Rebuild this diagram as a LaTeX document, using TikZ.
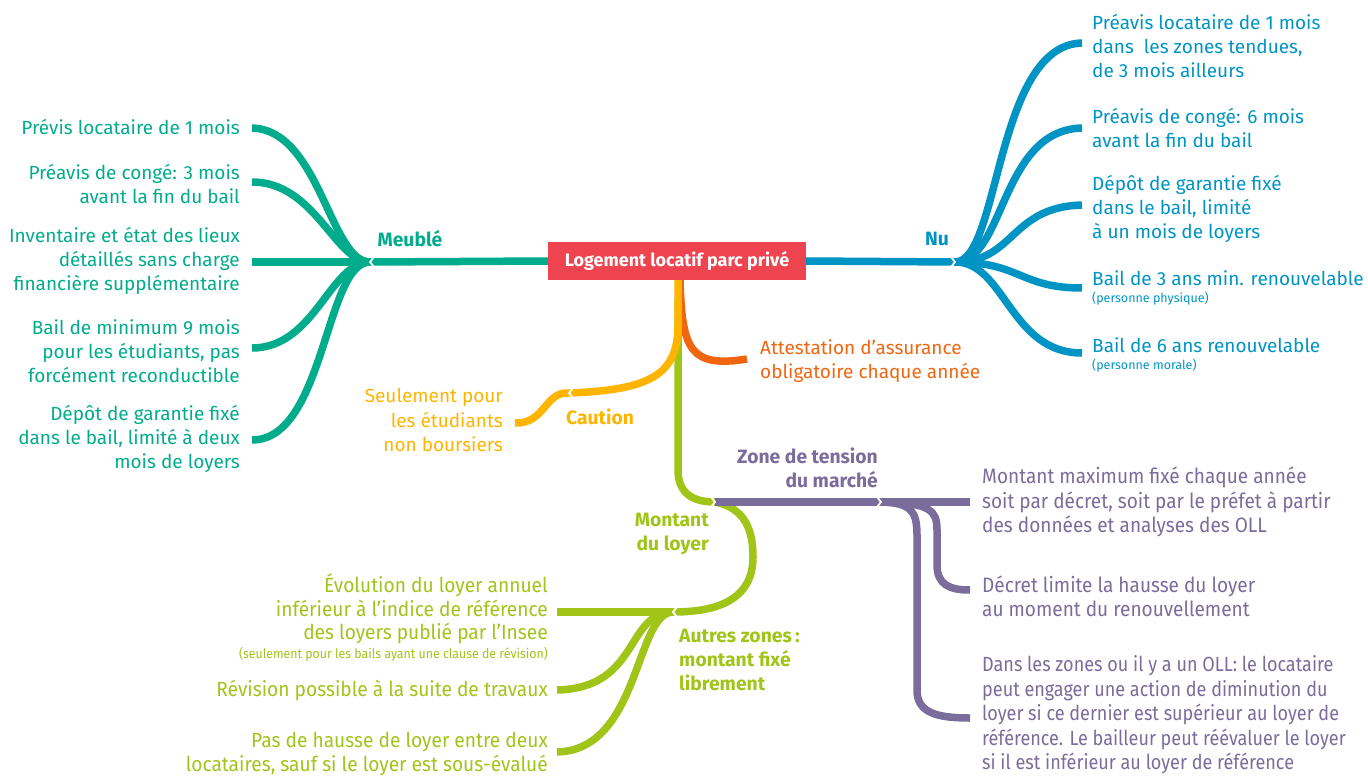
\documentclass[tikz,border=0pt]{standalone}
\usepackage{fontspec}
\setmainfont{Fira Sans}
\newfontfamily\condfont[FakeStretch=0.88]{Fira Sans}
\newfontfamily\condfontb[FakeStretch=0.915]{Fira Sans}
\newfontfamily\condfontc[FakeStretch=0.935]{Fira Sans}
\definecolor{cMeu}{RGB}{0,172,140}
\definecolor{cNu}{RGB}{0,148,196}
\definecolor{cCau}{RGB}{255,180,0}
\definecolor{cAtt}{RGB}{241,101,15}
\definecolor{cMon}{RGB}{161,196,24}
\definecolor{cZon}{RGB}{122,108,155}
\definecolor{cRoot}{RGB}{238,68,80}
\begin{document}
\begin{tikzpicture}[x=1pt,y=-1pt,
  br/.style={line width=7.5pt},
  chev/.style={white,line width=1.8pt},
  txt/.style={inner sep=0pt,font=\fontsize{19}{24.3}\selectfont},
  ztxt/.style={inner sep=0pt,font=\condfontb\fontsize{20.8}{24.3}\selectfont},
  zztxt/.style={inner sep=0pt,font=\condfont\fontsize{20.5}{24.5}\selectfont},
  otxt/.style={inner sep=0pt,font=\condfontc\fontsize{20.5}{23.5}\selectfont},
  small/.style={inner sep=0pt,font=\fontsize{12.5}{13}\selectfont},
  csmall/.style={inner sep=0pt,font=\condfontc\fontsize{13.2}{14}\selectfont},
  hd/.style={inner sep=0pt,font=\bfseries\fontsize{19.3}{24.3}\selectfont}]
\useasboundingbox (0,0) rectangle (1368,776);

% ---------- root
\node[fill=cRoot,minimum width=258,minimum height=38,inner sep=0pt,text=white,
  font=\bfseries\fontsize{18}{20}\selectfont] (root) at (677,261) {Logement locatif parc privé};

% ---------- coordinates
\coordinate (mC) at (370,262);
\coordinate (m1) at (252,128);
\coordinate (m2) at (252,182);
\coordinate (m3) at (252,262);
\coordinate (m4) at (252,348);
\coordinate (m5) at (252,440);
\coordinate (nC) at (955,262);
\coordinate (n1) at (1082,43);
\coordinate (n2) at (1082,128);
\coordinate (n3) at (1082,205);
\coordinate (n4) at (1082,288);
\coordinate (n5) at (1082,353);
\coordinate (cT) at (678,325);
\coordinate (cC) at (569,393);
\coordinate (c1) at (515,423);
\coordinate (aE) at (747,359);
\coordinate (lT) at (678,300);
\coordinate (lC) at (715,502);
\coordinate (zC) at (881,502);
\coordinate (z1) at (970,502);
\coordinate (z2) at (970,590);
\coordinate (z3) at (970,718);
\coordinate (oC) at (673,612);
\coordinate (o1) at (557,612);
\coordinate (o2) at (557,690);
\coordinate (o3) at (557,752);

% ---------- Meublé
\draw[br,cMeu] (root.west) -- (mC);
\draw[br,cMeu] (mC) .. controls (330,262) and (320,130) .. (m1);
\draw[br,cMeu] (mC) .. controls (335,262) and (315,182) .. (m2);
\draw[br,cMeu] (mC) -- (m3);
\draw[br,cMeu] (mC) .. controls (330,262) and (315,348) .. (m4);
\draw[br,cMeu] (mC) .. controls (325,262) and (325,440) .. (m5);
\draw[chev] ([shift={(4,-5)}]mC) -- (mC) -- ([shift={(4,5)}]mC);

% ---------- Nu
\draw[br,cNu] (root.east) -- (nC);
\draw[br,cNu] (nC) .. controls (1000,262) and (995,45) .. (n1);
\draw[br,cNu] (nC) .. controls (1005,262) and (1000,130) .. (n2);
\draw[br,cNu] (nC) .. controls (1015,262) and (1010,207) .. (n3);
\draw[br,cNu] (nC) .. controls (1020,262) and (1020,288) .. (n4);
\draw[br,cNu] (nC) .. controls (1005,262) and (1010,353) .. (n5);
\draw[chev] ([shift={(-4,-5)}]nC) -- (nC) -- ([shift={(-4,5)}]nC);

% ---------- Attestation (under)
\draw[br,cAtt] (root.south -| 680,0) .. controls (682,350) and (690,368) .. (aE);

% ---------- Montant du loyer trunk
\draw[br,cMon] (lT) -- (678,470) .. controls (678,495) and (695,502) .. (lC);
\draw[br,cMon] (lC) .. controls (745,508) and (753,530) .. (753,557)
   .. controls (753,595) and (725,612) .. (oC);
\draw[br,cMon] (oC) -- (o1);
\draw[br,cMon] (oC) .. controls (625,613) and (640,688) .. (o2);
\draw[br,cMon] (oC) .. controls (635,613) and (640,750) .. (o3);
\draw[chev] ([shift={(4,-5)}]oC) -- (oC) -- ([shift={(4,5)}]oC);

% ---------- Zone de tension
\draw[br,cZon] (lC) -- (zC) -- (z1);
\draw[br,cZon] (zC) .. controls (910,503) and (917,510) .. (917,535) -- (917,690)
   .. controls (917,712) and (935,718) .. (z3);
\draw[br,cZon] (zC) .. controls (930,503) and (937,510) .. (937,530) -- (937,565)
   .. controls (937,585) and (950,590) .. (z2);
\draw[chev] ([shift={(-4,-5)}]zC) -- (zC) -- ([shift={(-4,5)}]zC);
\draw[chev] ([shift={(-4,-5)}]lC) -- (lC) -- ([shift={(-4,5)}]lC);

% ---------- Caution (top)
\draw[br,cCau] (root.south -| 678,0) -- (cT) .. controls (678,375) and (650,390) .. (cC);
\draw[br,cCau] (cC) .. controls (545,391) and (545,424) .. (c1);
\draw[chev] ([shift={(4,-5)}]cC) -- (cC) -- ([shift={(4,5)}]cC);

% ---------- labels
\node[hd,text=cMeu] (lmeu) at (410,239) {Meublé};
\node[hd,text=cNu] (lnu) at (937,239) {Nu};
\node[hd,text=cCau] (lcau) at (600,417) {Caution};
\node[hd,text=cMon,align=right,anchor=east] (lmon) at (709,534) {Montant\\du loyer};
\node[hd,text=cZon,align=right,anchor=east] (lzon) at (878,468) {Zone de tension\\du marché};
\node[hd,text=cMon,align=left,anchor=west] (laut) at (679,660) {Autres zones\,:\\montant fixé\\librement};

% ---------- Meublé texts
\node[txt,text=cMeu,anchor=east,align=right] (tm1) at (240,127) {Prévis locataire de 1 mois};
\node[txt,text=cMeu,anchor=east,align=right] (tm2) at (240,184) {Préavis de congé: 3 mois\\avant la fin du bail};
\node[txt,text=cMeu,anchor=east,align=right] (tm3) at (240,261) {Inventaire et état des lieux\\détaillés sans charge\\financière supplémentaire};
\node[txt,text=cMeu,anchor=east,align=right] (tm4) at (240,351) {Bail de minimum 9 mois\\pour les étudiants, pas\\forcément reconductible};
\node[txt,text=cMeu,anchor=east,align=right] (tm5) at (240,439) {Dépôt de garantie fixé\\dans le bail, limité à deux\\mois de loyers};

% ---------- Nu texts
\node[txt,text=cNu,anchor=west,align=left] (tn1) at (1092,46) {Préavis locataire de 1 mois\\dans~ les zones tendues,\\de 3 mois ailleurs};
\node[txt,text=cNu,anchor=west,align=left] (tn2) at (1092,128) {Préavis de congé: 6 mois\\avant la fin du bail};
\node[txt,text=cNu,anchor=west,align=left] (tn3) at (1092,209) {Dépôt de garantie fixé\\dans le bail, limité\\à un mois de loyers};
\node[txt,text=cNu,anchor=west] (tn4) at (1092,278) {Bail de 3 ans min. renouvelable};
\node[small,text=cNu,anchor=west] (tn4s) at (1092,299) {(personne physique)};
\node[txt,text=cNu,anchor=west] (tn5) at (1092,345) {Bail de 6 ans renouvelable};
\node[small,text=cNu,anchor=west] (tn5s) at (1092,366) {(personne morale)};

% ---------- Caution / Attestation texts
\node[txt,text=cCau,anchor=east,align=right] (tc1) at (503,420) {Seulement pour\\les étudiants\\non boursiers};
\node[txt,text=cAtt,anchor=west,align=left] (ta1) at (760,361) {Attestation d’assurance\\obligatoire chaque année};

% ---------- Zone texts
\node[ztxt,text=cZon,anchor=west,align=left] (tz1) at (982,502) {Montant maximum fixé chaque année\\soit par décret, soit par le préfet à partir\\des données et analyses des OLL};
\node[ztxt,text=cZon,anchor=west,align=left] (tz2) at (982,596) {Décret limite la hausse du loyer\\au moment du renouvellement};
\node[zztxt,text=cZon,anchor=west,align=left] (tz3) at (982,715) {Dans les zones ou il y a un OLL: le locataire\\peut engager une action de diminution du\\loyer si ce dernier est supérieur au loyer de\\référence. Le bailleur peut réévaluer le loyer\\si il est inférieur au loyer de référence};

% ---------- Autres zones texts
\node[otxt,text=cMon,anchor=east,align=right] (to1) at (548,609) {Évolution du loyer annuel\\inférieur à l’indice de référence\\des loyers publié par l’Insee};
\node[csmall,text=cMon,anchor=east] (to1s) at (548,654) {(seulement pour les bails ayant une clause de révision)};
\node[otxt,text=cMon,anchor=east] (to2) at (548,690) {Révision possible à la suite de travaux};
\node[otxt,text=cMon,anchor=east,align=right] (to3) at (548,754) {Pas de hausse de loyer entre deux\\locataires, sauf si le loyer est sous-évalué};
\end{tikzpicture}
\end{document}
